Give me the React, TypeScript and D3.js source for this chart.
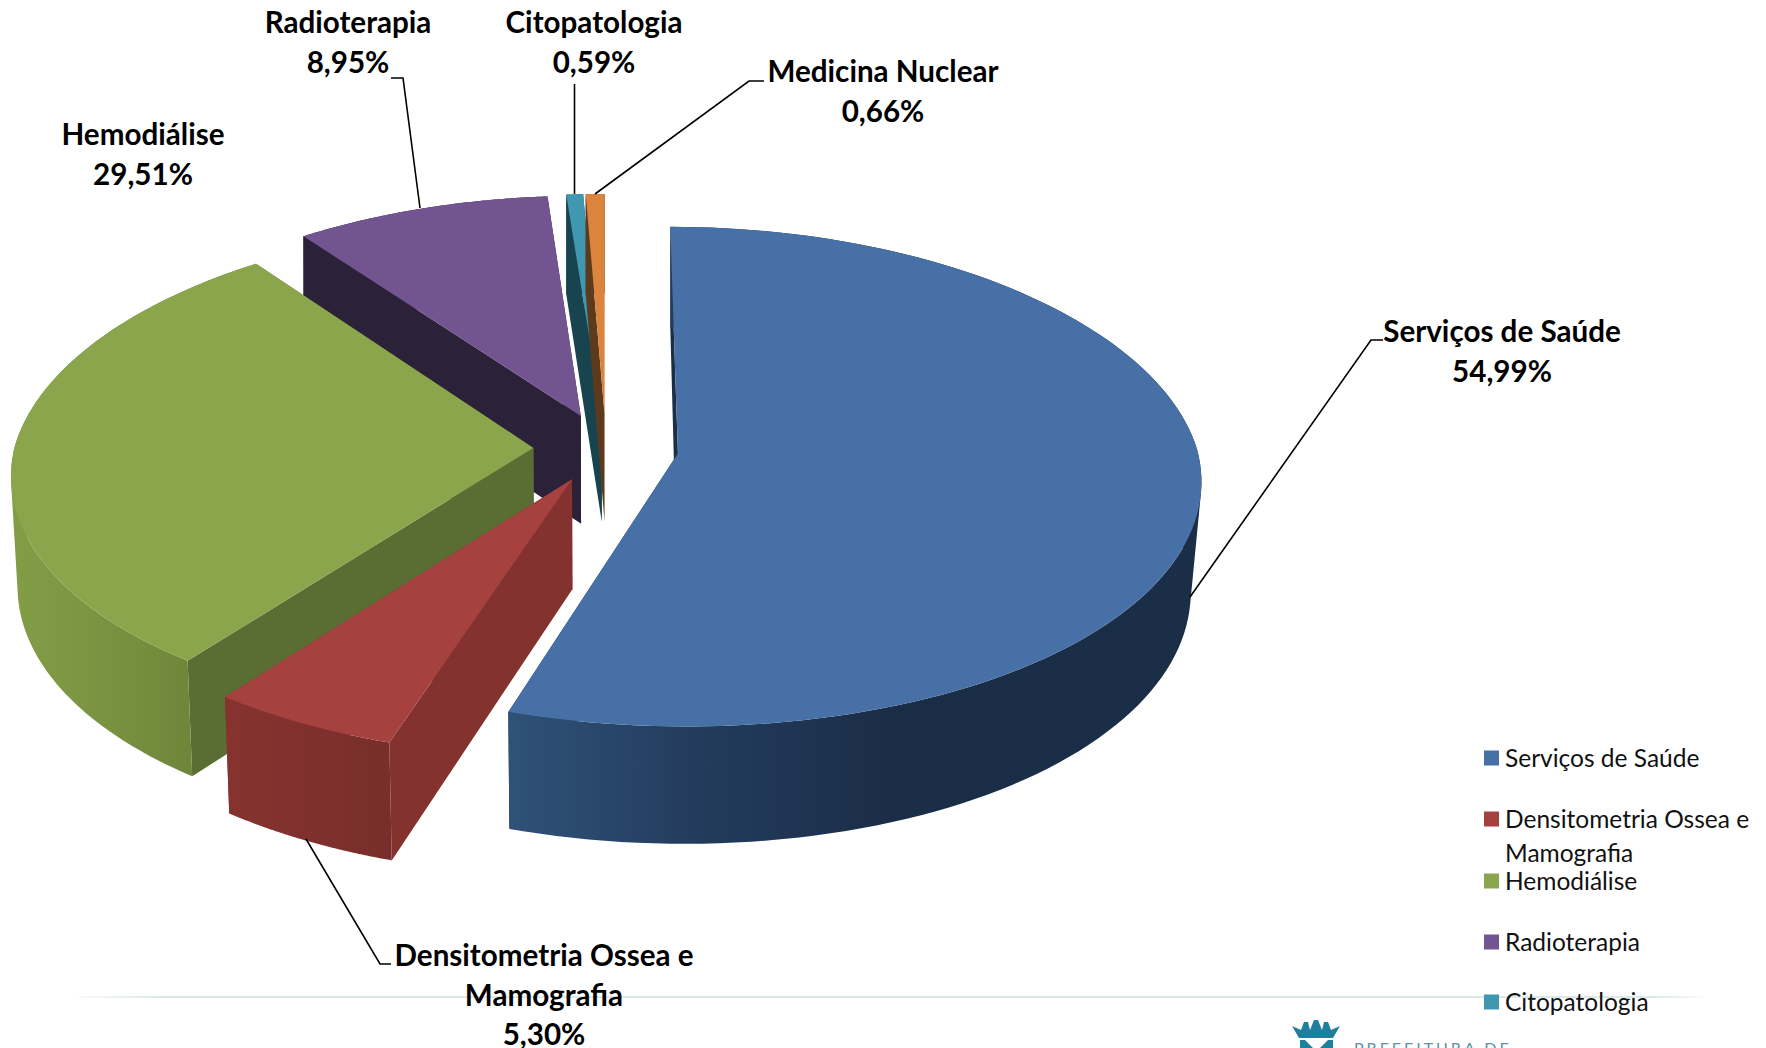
import React from "react";
import * as d3 from "d3";

const categories = ["Serviços de Saúde", "Densitometria Ossea e Mamografia", "Hemodiálise", "Radioterapia", "Citopatologia", "Medicina Nuclear"];
const values = [54.99, 5.3, 29.51, 8.95, 0.59, 0.66];
const valueLabels = ["54,99%", "5,30%", "29,51%", "8,95%", "0,59%", "0,66%"];
const topColors = ["#4670A6", "#A5423F", "#8AA54C", "#725590", "#3F97B0", "#DB843D"];
const radialColors = ["#1B2E47", "#84322F", "#5A6E33", "#2B2138", "#17444F", "#5E3A1C"];
const rimStops: [number, string][][] = [
  [[508, "#2F5278"], [700, "#233B5C"], [900, "#1A2D47"], [1190, "#1B2E47"]],
  [[228, "#86332F"], [390, "#782E2C"]],
  [[15, "#829D46"], [100, "#7A9342"], [192, "#6F863A"]],
  [[290, "#2B2138"], [580, "#2B2138"]],
  [[566, "#17444F"], [584, "#17444F"]],
  [[585, "#5E3A1C"], [604, "#5E3A1C"]],
];
const paintOrder = [3, 4, 5, 2, 1, 0];

const W = 1766, H = 1048;
const cx = 606, cy = 448, a = 519, b = 248, k = 0.088, explode = 0.14, depth = 109;

type P = [number, number];
function project(x: number, y: number, z: number): P {
  const s = 1 / (1 - k * y);
  const f = 1 + 0.027 * Math.min(0, y) + 0.012 * Math.max(0, y);
  let px = a * x * s * f;
  const rate = x > 0 ? 0.018 : 0.011;
  const shrink = rate * Math.min(1, Math.max(0, 1 + y));
  if (z > 0) px *= 1 - shrink * z;
  const py = b * y * s * (1 + 0.01 * Math.min(0, y)) + z * depth * (1 + 0.075 * y);
  return [cx + px, cy + py];
}

const pieGen = d3.pie<number>().sort(null).startAngle(0).endAngle(2 * Math.PI);
const arcs = pieGen(values);
const lineGen = d3.line();

function sliceGeometry(i: number) {
  const { startAngle: s, endAngle: e } = arcs[i];
  const mid = (s + e) / 2;
  const ox = explode * Math.sin(mid), oy = -explode * Math.cos(mid);
  const rim = (t: number): [number, number] => [ox + Math.sin(t), oy - Math.cos(t)];
  const steps = 120;
  const ts = d3.range(0, steps + 1).map((j) => s + ((e - s) * j) / steps);
  const topRim = ts.map((t) => { const [x, y] = rim(t); return project(x, y, 0); });
  const botRim = ts.map((t) => { const [x, y] = rim(t); return project(x, y, 1); });
  const apexT = project(ox, oy, 0), apexB = project(ox, oy, 1);
  // All quads wound the same way, so that one nonzero-filled path is their seamless union.
  const rimPath = d3.range(steps).map((j) => {
    const quad: P[] = [topRim[j], topRim[j + 1], botRim[j + 1], botRim[j]];
    if (d3.polygonArea(quad) < 0) quad.reverse();
    return lineGen(quad)! + "Z";
  }).join("");
  return {
    top: lineGen([apexT, ...topRim])! + "Z",
    rim: rimPath,
    wallS: lineGen([apexT, topRim[0], botRim[0], apexB])! + "Z",
    wallE: lineGen([apexT, topRim[steps], botRim[steps], apexB])! + "Z",
  };
}

const labelLines: string[][] = [
  ["Serviços de Saúde"],
  ["Densitometria Ossea e", "Mamografia"],
  ["Hemodiálise"],
  ["Radioterapia"],
  ["Citopatologia"],
  ["Medicina Nuclear"],
];
const labelCenters: P[] = [[1502, 332], [544, 956], [143, 135], [348, 23], [594, 23], [883, 72]];
const leaders: P[][] = [
  [[1190, 597], [1371, 340], [1383, 340]],
  [[306, 839], [380, 964], [391, 964]],
  [[420, 208], [403, 78], [391, 78]],
  [[574.5, 194], [574.5, 84]],
  [[595, 194], [749, 81], [764, 81]],
];
const legendY = [758, 819, 881, 942, 1002, 1063];
const legendLines: string[][] = [
  ["Serviços de Saúde"],
  ["Densitometria Ossea e", "Mamografia"],
  ["Hemodiálise"],
  ["Radioterapia"],
  ["Citopatologia"],
  ["Medicina Nuclear"],
];

const font = "Lato, Carlito, sans-serif";

export default function App() {
  return (
    <svg width={W} height={H} viewBox={`0 0 ${W} ${H}`} style={{ position: "absolute", left: 0, top: 0, background: "#fff" }}>
      <defs>
        {rimStops.map((st, i) => {
          const x0 = st[0][0], x1 = st[st.length - 1][0];
          return (
            <linearGradient key={i} id={`rim${i}`} gradientUnits="userSpaceOnUse" x1={x0} x2={x1} y1={0} y2={0}>
              {st.map(([x, c], j) => <stop key={j} offset={(x - x0) / (x1 - x0)} stopColor={c} />)}
            </linearGradient>
          );
        })}
        <linearGradient id="rule" x1="0" x2="1" y1="0" y2="0">
          <stop offset="0" stopColor="#DDE9E9" stopOpacity="0.2" />
          <stop offset="0.05" stopColor="#DDE9E9" />
          <stop offset="0.97" stopColor="#DDE9E9" />
          <stop offset="1" stopColor="#DDE9E9" stopOpacity="0.2" />
        </linearGradient>
      </defs>

      <rect x={78} y={996} width={1625} height={2} fill="url(#rule)" />

      {paintOrder.map((i) => {
        const g = sliceGeometry(i);
        return (
          <g key={i}>
            <path d={g.wallS} fill={radialColors[i]} />
            <path d={g.wallE} fill={radialColors[i]} />
            <path d={g.rim} fill={`url(#rim${i})`} fillRule="nonzero" />
            <path d={g.top} fill={topColors[i]} />
          </g>
        );
      })}

      {leaders.map((pts, i) => (
        <path key={i} d={lineGen(pts)!} fill="none" stroke="#000" strokeWidth={1.6} />
      ))}

      <g fontFamily={font} fontWeight={700} fontSize={29.6} fill="#000" textAnchor="middle">
        {labelLines.map((lines, i) => (
          <g key={i}>
            {[...lines, valueLabels[i]].map((t, j) => (
              <text key={j} x={labelCenters[i][0]} y={labelCenters[i][1] + j * 39.5} dy="0.35em">{t}</text>
            ))}
          </g>
        ))}
      </g>

      <g fontFamily={font} fontSize={24.5} fill="#111">
        {legendLines.map((lines, i) => (
          <g key={i}>
            <rect x={1484} y={legendY[i] - 7.5} width={15} height={15} fill={topColors[i]} />
            {lines.map((t, j) => (
              <text key={j} x={1505} y={legendY[i] + j * 34} dy="0.35em">{t}</text>
            ))}
          </g>
        ))}
      </g>

      <g fill="#1F7F9E">
        <path d="M1292 1026 L1301 1030 L1304 1022 L1308 1022 L1310 1030 L1314 1020 L1318 1020 L1322 1030 L1324 1022 L1328 1022 L1331 1030 L1340 1026 L1333 1038 L1299 1038 Z" />
        <path d="M1300 1040 H1333 V1048 H1300 Z" />
      </g>
      <path d="M1305 1040 H1328 L1320 1048 H1313 Z" fill="#fff" />
      <text x={1354} y={1054} fontFamily={font} fontSize={16} letterSpacing={3} fill="#5E93A3">PREFEITURA DE</text>
    </svg>
  );
}
